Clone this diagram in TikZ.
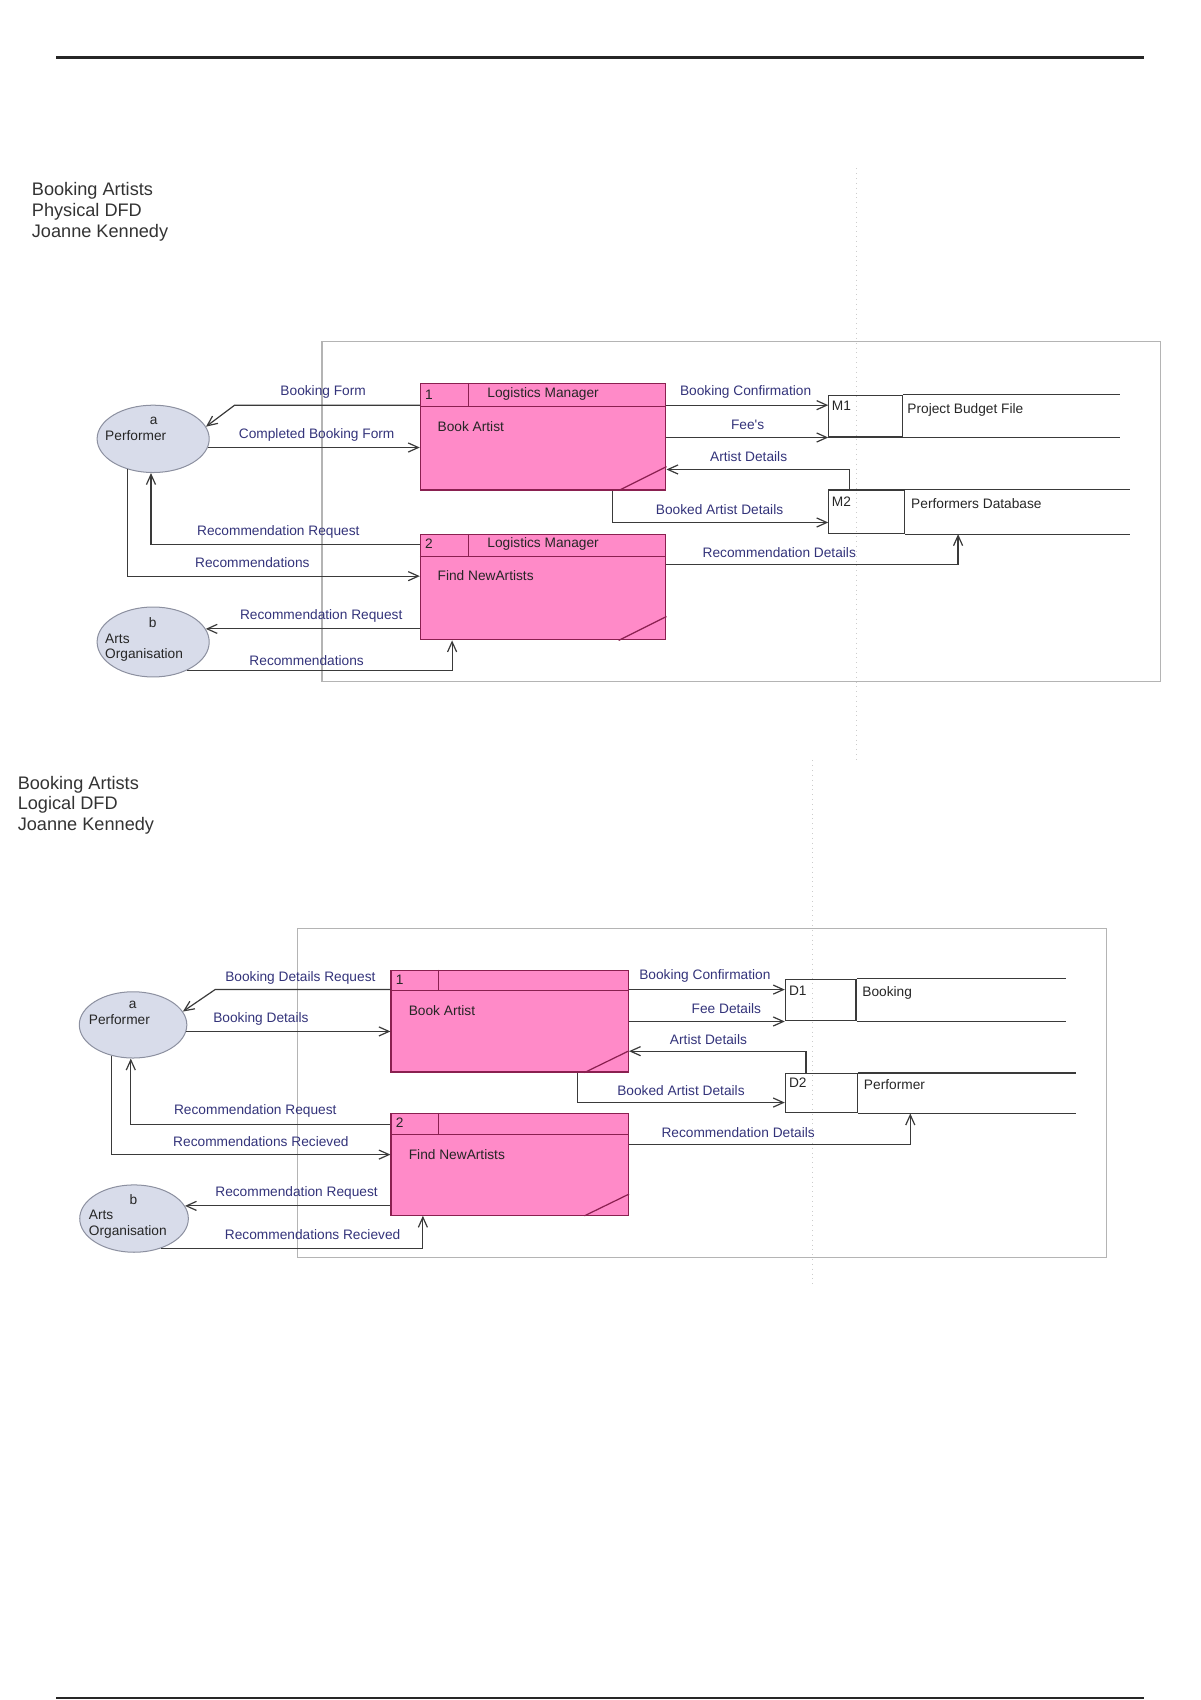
\documentclass[tikz,border=0pt]{standalone}
\usepackage{fontspec}
\setmainfont{Liberation Sans}
\usetikzlibrary{arrows.meta,shapes.geometric,calc}
\newcommand\pxunit{0.5385pt}
\definecolor{procfill}{HTML}{FF8AC8}
\definecolor{procborder}{HTML}{8A2050}
\definecolor{entfill}{HTML}{D8DCEA}
\definecolor{entborder}{HTML}{8C90A0}
\definecolor{linecol}{HTML}{3A3A3A}
\definecolor{lblcol}{HTML}{33337A}
\definecolor{boundcol}{HTML}{B4B4B4}
\definecolor{titlecol}{HTML}{333333}
\begin{document}
\begin{tikzpicture}[x=0.5385pt,y=-0.5385pt,
  proc/.style={draw=procborder,fill=procfill,line width=0.6pt,inner sep=0pt},
  procline/.style={draw=procborder,line width=0.6pt},
  ent/.style={ellipse,draw=entborder,fill=entfill,line width=0.5pt,inner sep=0pt},
  store/.style={draw=linecol,line width=0.6pt,inner sep=0pt},
  storeline/.style={draw=linecol,line width=0.6pt},
  flow/.style={draw=linecol,line width=0.6pt,-{Straight Barb[length=5pt,width=4.5pt]}},
  lbl/.style={text=lblcol,font=\fontsize{6.8}{8}\selectfont,inner sep=0pt},
  ptext/.style={text=black!85,font=\fontsize{6.8}{8}\selectfont,inner sep=0pt,anchor=west},
  bound/.style={draw=boundcol,line width=0.6pt},
  pagebreak/.style={draw=black!20,line width=0.4pt,dotted},
  rule/.style={draw=black!85,line width=1.1pt},
  titletext/.style={font=\fontsize{9}{10.2}\selectfont,text=titlecol,align=left,anchor=west,inner sep=0pt}]
\useasboundingbox (0,0) rectangle (1105,1565);
% page rules
\draw[rule] (52,53) -- (1053,53);
\draw[rule] (52,1563) -- (1053,1563);
% titles
\node[titletext] (t1) at (29,195) {Booking Artists\\Physical DFD\\Joanne Kennedy};
\node[titletext] (t2) at (16,741) {Booking Artists\\Logical DFD\\Joanne Kennedy};
% page break guides and boundaries
\draw[pagebreak] (788,155) -- (788,700);
\draw[pagebreak] (748,700) -- (748,1185);
\draw[bound] (296.5,314.6) rectangle (1068,627.7);
\draw[bound] (273.7,854.8) rectangle (1018.3,1157.7);

% ================= TOP: Physical DFD =================
\node[ent,minimum width=103.2*\pxunit,minimum height=62*\pxunit] (pa) at (141,404) {};
\node[ptext,anchor=center] at (141.5,387) {a};
\node[ptext] at (96.5,401) {Performer};
\node[ent,minimum width=103.2*\pxunit,minimum height=64.4*\pxunit] (pb) at (141,591) {};
\node[ptext,anchor=center] at (140.6,573.5) {b};
\node[ptext] at (96.5,588) {Arts};
\node[ptext] at (96.5,603) {Organisation};

\node[proc,minimum width=226*\pxunit,minimum height=98*\pxunit] (p1) at (500,402) {};
\draw[procline] ($(p1.north west)+(0,22)$) -- ($(p1.north east)+(0,22)$);
\draw[procline] ($(p1.north west)+(45,0)$) -- ($(p1.north west)+(45,22)$);
\draw[procline] ($(p1.south east)+(-44,0)$) -- ($(p1.south east)+(0,-22)$);
\node[ptext] at (391,363) {1};
\node[ptext,anchor=center] at (500,363) {Logistics Manager};
\node[ptext] at (402.5,393) {Book Artist};

\node[proc,minimum width=226*\pxunit,minimum height=97*\pxunit] (p2) at (500,540.5) {};
\draw[procline] ($(p2.north west)+(0,21)$) -- ($(p2.north east)+(0,21)$);
\draw[procline] ($(p2.north west)+(45,0)$) -- ($(p2.north west)+(45,21)$);
\draw[procline] ($(p2.south east)+(-44,0)$) -- ($(p2.south east)+(0,-22)$);
\node[ptext] at (391,500.5) {2};
\node[ptext,anchor=center] at (500,500.5) {Logistics Manager};
\node[ptext] at (402.5,530) {Find NewArtists};

\node[store,minimum width=67.5*\pxunit,minimum height=38.4*\pxunit] (m1) at (796.75,383) {};
\coordinate (m1end) at (1031,0);
\draw[storeline] (m1.north east) -- (m1.north east -| m1end);
\draw[storeline] (m1.south east) -- (m1.south east -| m1end);
\node[ptext] at (765.5,374) {M1};
\node[ptext] at (835,377) {Project Budget File};

\node[store,minimum width=70*\pxunit,minimum height=40*\pxunit] (m2) at (798,471.15) {};
\coordinate (m2end) at (1040,0);
\draw[storeline] (m2.north east) -- (m2.north east -| m2end);
\draw[storeline] (m2.south east) -- (m2.south east -| m2end);
\node[ptext] at (765.5,462) {M2};
\node[ptext] at (838.5,464) {Performers Database};

% flows
\coordinate (bf) at (216,373);
\draw[flow] (p1.west |- bf) -- (bf) -- (pa.13);
\node[lbl] at (297.5,361) {Booking Form};
\draw[flow] (pa.-9) -- (pa.-9 -| p1.west);
\node[lbl] at (291.5,400.6) {Completed Booking Form};
\coordinate (rr) at (139,501);
\draw[flow] (p2.west |- rr) -- (rr) -- (rr |- pa.south);
\node[lbl] at (256.2,489.3) {Recommendation Request};
\coordinate (rc) at (117.7,530.4);
\draw[flow] (pa.-130) -- (pa.-130 |- rc) -- (rc -| p2.west);
\node[lbl] at (232.3,518) {Recommendations};
\draw[flow] (pb.14 -| p2.west) -- (pb.14);
\node[lbl] at (295.7,567) {Recommendation Request};
\coordinate (ra) at (416.2,0);
\draw[flow] (pb.-40) -- (pb.-40 -| ra) -- (ra |- p2.south);
\node[lbl] at (282.3,607.8) {Recommendations};
\coordinate (bc) at (0,373);
\draw[flow] (p1.east |- bc) -- (m1.west |- bc);
\node[lbl] at (686.4,360.7) {Booking Confirmation};
\draw[flow] (p1.east |- m1.south) -- (m1.south west);
\node[lbl] at (688.2,391.4) {Fee\textquotesingle s};
\coordinate (ad) at (782.2,432.2);
\draw[flow] (ad |- m2.north) -- (ad) -- (ad -| p1.east);
\node[lbl] at (689.2,419.9) {Artist Details};
\coordinate (ba) at (563.5,481);
\draw[flow] (ba |- p1.south) -- (ba) -- (ba -| m2.west);
\node[lbl] at (662.4,468.7) {Booked Artist Details};
\coordinate (rd) at (882,519.7);
\draw[flow] (rd -| p2.east) -- (rd) -- (rd |- m2.south);
\node[lbl] at (717.4,508.6) {Recommendation Details};

% ================= BOTTOM: Logical DFD =================
\node[ent,minimum width=99*\pxunit,minimum height=61*\pxunit] (pc) at (122.5,943.5) {};
\node[ptext,anchor=center] at (122.2,925) {a};
\node[ptext] at (81.5,939) {Performer};
\node[ent,minimum width=100*\pxunit,minimum height=62*\pxunit] (pd) at (123.4,1121.8) {};
\node[ptext,anchor=center] at (122.9,1104) {b};
\node[ptext] at (81.5,1118) {Arts};
\node[ptext] at (81.5,1134) {Organisation};

\node[proc,minimum width=218.5*\pxunit,minimum height=93.7*\pxunit] (q1) at (469.25,939.95) {};
\draw[procline] ($(q1.north west)+(0,19.5)$) -- ($(q1.north east)+(0,19.5)$);
\draw[procline] ($(q1.north west)+(44,0)$) -- ($(q1.north west)+(44,19.5)$);
\draw[procline] ($(q1.south east)+(-41,0)$) -- ($(q1.south east)+(0,-20)$);
\node[ptext] at (364,902) {1};
\node[ptext] at (376,930) {Book Artist};

\node[proc,minimum width=218.5*\pxunit,minimum height=93.6*\pxunit] (q2) at (469.25,1071.9) {};
\draw[procline] ($(q2.north west)+(0,20)$) -- ($(q2.north east)+(0,20)$);
\draw[procline] ($(q2.north west)+(44,0)$) -- ($(q2.north west)+(44,20)$);
\draw[procline] ($(q2.south east)+(-41,0)$) -- ($(q2.south east)+(0,-20)$);
\node[ptext] at (364,1034) {2};
\node[ptext] at (376,1062.5) {Find NewArtists};

\node[store,minimum width=65*\pxunit,minimum height=38.1*\pxunit] (d1) at (755.5,920.75) {};
\coordinate (d1end) at (981.5,0);
\draw[storeline] (d1.north east) -- (d1.north east -| d1end);
\draw[storeline] (d1.south east) -- (d1.south east -| d1end);
\node[ptext] at (726,912) {D1};
\node[ptext] at (793.5,914.5) {Booking};

\node[store,minimum width=66.7*\pxunit,minimum height=36.2*\pxunit] (d2) at (756.35,1006.4) {};
\coordinate (d2end) at (990.5,0);
\draw[storeline] (d2.north east) -- (d2.north east -| d2end);
\draw[storeline] (d2.south east) -- (d2.south east -| d2end);
\node[ptext] at (726,997) {D2};
\node[ptext] at (795,998.5) {Performer};

% flows
\coordinate (bdr) at (198,911);
\draw[flow] (q1.west |- bdr) -- (bdr) -- (pc.15);
\node[lbl] at (276.5,899.9) {Booking Details Request};
\draw[flow] (pc.-7) -- (pc.-7 -| q1.west);
\node[lbl] at (240.2,938) {Booking Details};
\coordinate (rq) at (120.4,1035.3);
\draw[flow] (q2.west |- rq) -- (rq) -- (rq |- pc.south);
\node[lbl] at (235,1023) {Recommendation Request};
\coordinate (rrc) at (102.8,1062.9);
\draw[flow] (pc.-125) -- (pc.-125 |- rrc) -- (rrc -| q2.west);
\node[lbl] at (240.2,1051.2) {Recommendations Recieved};
\draw[flow] (pd.14 -| q2.west) -- (pd.14);
\node[lbl] at (273,1098.2) {Recommendation Request};
\coordinate (rra) at (389.3,0);
\draw[flow] (pd.-48) -- (pd.-48 -| rra) -- (rra |- q2.south);
\node[lbl] at (287.8,1137) {Recommendations Recieved};
\coordinate (bc2) at (0,911);
\draw[flow] (q1.east |- bc2) -- (d1.west |- bc2);
\node[lbl] at (648.9,898.7) {Booking Confirmation};
\draw[flow] (q1.east |- d1.south) -- (d1.south west);
\node[lbl] at (668.7,928.4) {Fee Details};
\coordinate (ad2) at (742,967.7);
\draw[flow] (ad2 |- d2.north) -- (ad2) -- (ad2 -| q1.east);
\node[lbl] at (652.2,957) {Artist Details};
\coordinate (ba2) at (531.5,1015);
\draw[flow] (ba2 |- q1.south) -- (ba2) -- (ba2 -| d2.west);
\node[lbl] at (626.9,1003.6) {Booked Artist Details};
\coordinate (rd2) at (838,1053.4);
\draw[flow] (rd2 -| q2.east) -- (rd2) -- (rd2 |- d2.south);
\node[lbl] at (679.5,1042.6) {Recommendation Details};
\end{tikzpicture}
\end{document}
